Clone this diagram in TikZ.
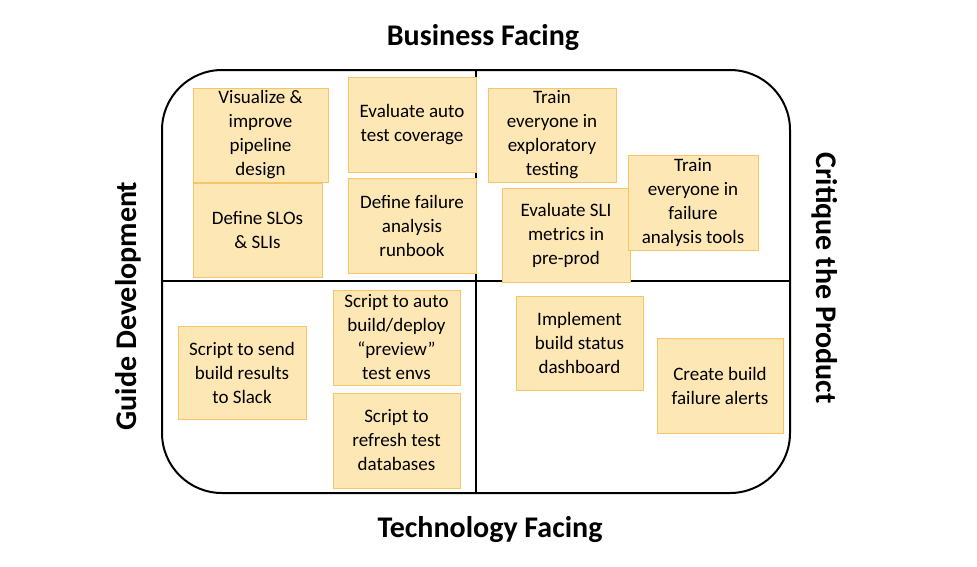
\documentclass[tikz,border=0pt]{standalone}
\usepackage{fontspec}
\setmainfont{Carlito}
\definecolor{stickfill}{HTML}{FDE7B5}
\definecolor{stickdraw}{HTML}{F7C46A}
\begin{document}
\begin{tikzpicture}[x=1pt,y=-1pt,
  sticky/.style={draw=stickdraw, fill=stickfill, line width=0.8pt, align=center, font=\fontsize{19}{24}\selectfont, inner sep=0pt},
  title/.style={font=\fontsize{30}{34}\selectfont\bfseries}]
\useasboundingbox (0,0) rectangle (977,566);
\draw[line width=2pt, rounded corners=60pt] (162,70) rectangle (790,493);
\coordinate (t) at (476,70); \coordinate (b) at (476,493);
\coordinate (l) at (162,281); \coordinate (r) at (790,281);
\draw[line width=2pt] (t) -- (b);
\draw[line width=2pt] (l) -- (r);
\newcommand{\sticky}[6]{\node[sticky, minimum width=#3-#1, minimum height=#4-#2] (#5) at ({(#1+#3)/2},{(#2+#4)/2}) {#6};}
\sticky{193}{88}{328}{182}{n1}{Visualize \&\\improve\\pipeline\\design}
\sticky{193}{183}{322}{277}{n2}{Define SLOs\\\& SLIs}
\sticky{348}{77}{476}{172}{n3}{Evaluate auto\\test coverage}
\sticky{348}{178}{476}{273}{n4}{Define failure\\analysis\\runbook}
\sticky{488}{88}{616}{182}{n5}{Train\\everyone in\\exploratory\\testing}
\sticky{502}{188}{630}{282}{n6}{Evaluate SLI\\metrics in\\pre-prod}
\sticky{628}{155}{758}{250}{n7}{Train\\everyone in\\failure\\analysis tools}
\sticky{178}{326}{306}{419}{n8}{Script to send\\build results\\to Slack}
\sticky{333}{290}{460}{385}{n9}{Script to auto\\build/deploy\\``preview''\\test envs}
\sticky{333}{393}{460}{488}{n10}{Script to\\refresh test\\databases}
\sticky{516}{296}{643}{390}{n11}{Implement\\build status\\dashboard}
\sticky{657}{338}{783}{433}{n12}{Create build\\failure alerts}
\node[title] (bf) at (483,38) {Business Facing};
\node[title] (tf) at (490,530) {Technology Facing};
\node[title, rotate=90] (gd) at (128,306) {Guide Development};
\node[title, rotate=-90] (cp) at (825,278) {Critique the Product};
\end{tikzpicture}
\end{document}
